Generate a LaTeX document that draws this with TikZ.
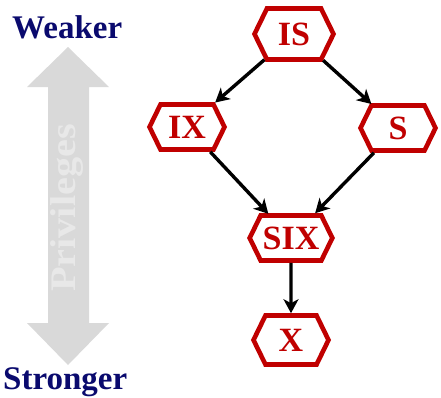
\documentclass[tikz,border=0pt]{standalone}
\usepackage{fontspec}
\setmainfont{Liberation Serif}
\usetikzlibrary{shapes.symbols,arrows.meta}
\definecolor{lockred}{HTML}{C00000}
\definecolor{navy}{HTML}{0A0A6E}
\definecolor{arrowgray}{HTML}{D9D9D9}
\definecolor{labelgray}{HTML}{E8E8E8}
\tikzset{
  lockmode/.style={shape=signal, signal to=west and east, signal pointer angle=128,
    draw=lockred, line width=4.6pt, text=lockred, font=\fontsize{34}{34}\selectfont\bfseries,
    minimum width=75pt, minimum height=45pt, inner xsep=2pt, inner ysep=0pt},
  edge/.style={line width=3.4pt, -{Stealth[length=14pt,width=15pt,inset=4pt]}},
  endlabel/.style={text=navy, font=\fontsize{33}{33}\selectfont\bfseries, inner sep=0pt}
}
\begin{document}
\begin{tikzpicture}[x=1pt,y=-1pt]
\useasboundingbox (0,0) rectangle (441,397);
% privilege scale: double-headed gray arrow
\fill[arrowgray] (68,47) -- (109,87) -- (89,87) -- (89,323) -- (109,323) -- (68,365)
  -- (27,323) -- (48,323) -- (48,87) -- (27,87) -- cycle;
\node[rotate=90, text=labelgray, font=\fontsize{36}{36}\selectfont\bfseries, xscale=1.12, inner sep=0pt]
  (priv) at (67,208) {Privileges};
\node[endlabel, anchor=base west] (weak) at (12,38) {Weaker};
\node[endlabel, anchor=base west] (strong) at (3,389) {Stronger};
% lock modes
\node[lockmode, minimum width=79pt, minimum height=51pt] (IS) at (294,34) {IS};
\node[lockmode] (IX) at (187,127) {IX};
\node[lockmode] (S) at (398,128) {S};
\node[lockmode] (SIX) at (291,238) {SIX};
\node[lockmode, minimum height=49pt] (X) at (291,340) {X};
% compatibility ordering
\draw[edge] (IS) -- (IX);
\draw[edge] (IS) -- (S);
\draw[edge] (IX) -- (SIX);
\draw[edge] (S) -- (SIX);
\draw[edge] (SIX) -- (X);
\end{tikzpicture}
\end{document}
